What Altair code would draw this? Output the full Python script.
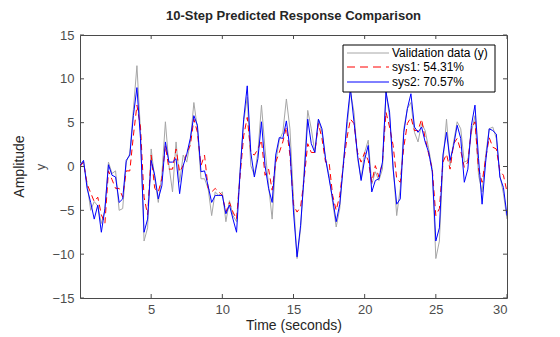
import altair as alt
import pandas as pd

# time samples (seconds)
time_s = [0.0, 0.25, 0.5, 0.75, 1.0, 1.25, 1.5, 1.75, 2.0, 2.25, 2.5, 2.75, 3.0, 3.25, 3.5, 3.75,
          4.0, 4.25, 4.5, 4.75, 5.0, 5.25, 5.5, 5.75, 6.0, 6.25, 6.5, 6.75, 7.0, 7.25, 7.5, 7.75,
          8.0, 8.25, 8.5, 8.75, 9.0, 9.25, 9.5, 9.75, 10.0, 10.25, 10.5, 10.75, 11.0, 11.25, 11.5, 11.75,
          12.0, 12.25, 12.5, 12.75, 13.0, 13.25, 13.5, 13.75, 14.0, 14.25, 14.5, 14.75, 15.0, 15.25, 15.5, 15.75,
          16.0, 16.25, 16.5, 16.75, 17.0, 17.25, 17.5, 17.75, 18.0, 18.25, 18.5, 18.75, 19.0, 19.25, 19.5, 19.75,
          20.0, 20.25, 20.5, 20.75, 21.0, 21.25, 21.5, 21.75, 22.0, 22.25, 22.5, 22.75, 23.0, 23.25, 23.5, 23.75,
          24.0, 24.25, 24.5, 24.75, 25.0, 25.25, 25.5, 25.75, 26.0, 26.25, 26.5, 26.75, 27.0, 27.25, 27.5, 27.75,
          28.0, 28.25, 28.5, 28.75, 29.0, 29.25, 29.5, 29.75, 30.0]

validation_y = [0.3, 0.5, -2.0, -5.0, -4.0, -4.5, -6.5, -5.0, 0.5, -0.8, -0.5, -5.0, -4.8, 0.5, 1.5, 6.5,
                11.5, 4.0, -8.5, -7.0, 2.0, -1.4, -4.1, -1.0, 5.1, 0.1, -2.9, 2.8, -1.8, 1.3, 0.5, 2.8,
                7.3, 4.3, -1.4, -1.4, -2.5, -5.6, -2.9, -3.3, -2.9, -6.3, -3.9, -5.6, -6.3, -0.3, 5.1, 7.9,
                0.1, -1.0, 1.6, 7.0, 2.0, -2.2, -6.0, 0.5, 3.0, 3.9, 7.7, 4.3, -3.7, -10.5, -7.1, -0.3,
                6.4, 4.3, 1.6, 5.4, 3.9, 0.9, -1.0, -4.1, -6.9, -4.8, 0.5, 4.3, 8.5, 6.2, 0.9, -1.4,
                1.6, 3.0, -2.0, -0.6, -1.6, -0.3, 8.5, 5.6, 0.1, -5.6, -2.5, 4.3, 6.6, 7.3, 3.9, 2.8,
                4.9, 4.1, 2.0, -0.3, -10.5, -8.5, 0.5, 5.4, 0.1, 2.8, 5.1, 4.3, 0.5, 0.7, 3.9, 5.8,
                -1.0, -2.9, 1.3, 4.3, 4.5, 3.2, -1.0, -3.1, -6.0]

sys1_y = [0.0, 0.5, -2.0, -3.0, -4.0, -3.5, -5.5, -6.5, -0.5, -1.5, -2.5, -2.5, -3.5, -0.5, -0.5, 3.5,
          7.0, 4.5, -3.5, -5.5, 1.3, -2.5, -2.9, -1.4, 2.4, -0.3, -0.3, 2.0, -0.6, 0.1, 1.6, 2.4,
          5.4, 3.9, 0.1, 1.3, -2.5, -2.9, -2.5, -2.9, -3.3, -5.2, -4.1, -5.2, -6.0, -1.0, 3.5, 5.6,
          1.6, 1.3, 2.0, 3.0, -1.0, -0.3, -2.7, 0.5, 1.6, 2.8, 4.5, 1.3, -4.4, -5.2, -4.6, -1.4,
          2.6, 1.6, 1.6, 4.9, 3.2, 0.5, 0.5, -3.3, -5.0, -3.3, 0.1, 3.2, 5.4, 4.9, 1.6, 0.5,
          1.6, 0.7, -1.8, 0.1, -1.2, 0.5, 6.2, 4.5, 2.4, -1.4, -1.8, 2.2, 4.9, 5.6, 4.1, 4.1,
          5.4, 3.2, 1.4, -0.3, -5.6, -4.8, 0.5, 1.4, -0.3, 2.6, 3.2, 1.8, -0.1, 0.5, 4.3, 5.1,
          -0.3, -1.8, 0.9, 3.3, 2.2, 2.0, -0.5, -1.0, -2.9]

sys2_y = [0.1, 0.7, -2.5, -4.1, -6.0, -4.4, -7.5, -4.8, 0.2, -1.0, -1.2, -4.1, -3.7, 0.7, 1.3, 5.8,
          9.0, 3.2, -7.5, -6.0, 0.7, -1.0, -3.7, -2.2, 2.8, 0.5, 0.5, 0.9, -3.1, 0.1, 1.4, 3.2,
          5.8, 4.7, -0.6, -0.5, -2.2, -4.1, -3.3, -3.3, -3.3, -5.4, -4.4, -6.0, -7.5, -0.6, 5.4, 9.2,
          1.6, -1.2, 0.9, 5.1, 0.1, -2.5, -4.1, 1.3, 3.3, 3.2, 5.2, 2.0, -5.2, -10.3, -6.7, -1.0,
          5.4, 2.6, 1.6, 5.4, 4.3, 0.9, -1.4, -3.7, -6.3, -4.3, 0.1, 5.1, 8.9, 5.1, 1.3, -1.6,
          0.8, 2.4, -2.9, -1.6, -1.4, 0.5, 8.5, 6.2, -0.3, -4.3, -3.7, 3.9, 6.6, 8.3, 4.5, 3.9,
          4.5, 2.8, 1.6, -0.6, -8.5, -7.0, 1.3, 3.9, 0.7, 2.4, 4.7, 3.2, -1.8, -0.3, 4.7, 7.0,
          0.9, -4.3, 0.5, 4.3, 4.1, 3.7, -1.2, -2.4, -5.6]

series_names = ["Validation data (y)", "sys1: 54.31%", "sys2: 70.57%"]
series_colors = ["#a6a6a6", "#ff0000", "#0000ff"]
x_ticks = [5, 10, 15, 20, 25, 30]
y_ticks = [-15, -10, -5, 0, 5, 10, 15]

W, H = 427, 263
AX = "#4a4a4a"
FONT = "Liberation Sans"

xs = alt.Scale(domain=[0, 30], nice=False, zero=False)
ys = alt.Scale(domain=[-15, 15], nice=False)
common_axis = dict(domain=False, ticks=False, grid=False, format="d",
                   labelFont=FONT, labelFontSize=13, labelColor="#4d4d4d",
                   titleFont=FONT, titleFontWeight="normal")
x_axis = alt.Axis(values=x_ticks, title="Time (seconds)", labelPadding=5, titlePadding=2,
                  titleFontSize=14, titleColor="#262626", **common_axis)
y_axis = alt.Axis(values=y_ticks, title="y", labelPadding=6, titlePadding=4,
                  titleFontSize=13, titleColor="#4d4d4d", **common_axis)

def line_layer(vals, color, dash=None):
    df = pd.DataFrame({"t": time_s, "v": vals})
    kw = dict(color=color, strokeWidth=1, clip=True)
    if dash:
        kw["strokeDash"] = dash
    return alt.Chart(df).mark_line(**kw).encode(
        x=alt.X("t:Q", scale=xs, axis=x_axis),
        y=alt.Y("v:Q", scale=ys, axis=y_axis),
    )

base_lines = [
    line_layer(validation_y, series_colors[0]),
    line_layer(sys1_y, series_colors[1], [6, 4]),
    line_layer(sys2_y, series_colors[2]),
]

xt = pd.DataFrame({"t": x_ticks})
yt = pd.DataFrame({"v": y_ticks})
tick_layers = [
    alt.Chart(xt).mark_rule(color=AX).encode(x=alt.X("t:Q", scale=xs, axis=x_axis), y=alt.value(H), y2=alt.value(H - 4)),
    alt.Chart(xt).mark_rule(color=AX).encode(x=alt.X("t:Q", scale=xs, axis=x_axis), y=alt.value(0), y2=alt.value(4)),
    alt.Chart(yt).mark_rule(color=AX).encode(y=alt.Y("v:Q", scale=ys, axis=y_axis), x=alt.value(0), x2=alt.value(4)),
    alt.Chart(yt).mark_rule(color=AX).encode(y=alt.Y("v:Q", scale=ys, axis=y_axis), x=alt.value(W), x2=alt.value(W - 4)),
]

amp = alt.Chart(pd.DataFrame({"lab": ["Amplitude"]})).mark_text(
    angle=270, fontSize=14, font=FONT, color="#262626", baseline="middle", align="center"
).encode(text="lab:N", x=alt.value(-60), y=alt.value(H / 2))

# manual legend
one = pd.DataFrame({"k": [0]})
leg_layers = [
    alt.Chart(one).mark_rect(fill="white", stroke="black", strokeWidth=1).encode(
        x=alt.value(263), x2=alt.value(415), y=alt.value(10), y2=alt.value(57))
]
row_y = [18, 32, 47]
# solid sample for rows 0 and 2, dashed (drawn as short solid pieces) for row 1
pieces = {0: [(267, 309)], 1: [(267, 275), (280, 288), (293, 301), (306, 309)], 2: [(267, 309)]}
for i, (name, col, ry) in enumerate(zip(series_names, series_colors, row_y)):
    for x0, x1 in pieces[i]:
        leg_layers.append(alt.Chart(one).mark_rule(strokeWidth=1, color=col).encode(
            x=alt.value(x0), x2=alt.value(x1), y=alt.value(ry)))
    leg_layers.append(alt.Chart(pd.DataFrame({"lab": [name]})).mark_text(
        align="left", baseline="middle", fontSize=12, font=FONT, color="#000000"
    ).encode(text="lab:N", x=alt.value(312), y=alt.value(ry)))

chart = alt.layer(*base_lines, *tick_layers, amp, *leg_layers).properties(
    width=W, height=H, background="white",
    title=alt.Title("10-Step Predicted Response Comparison", fontSize=13, fontWeight="bold",
                    font=FONT, color="#262626", anchor="middle", offset=6),
    autosize=alt.AutoSizeParams(type="none"),
    padding={"left": 80, "top": 35, "right": 53, "bottom": 39},
).configure_view(stroke=AX, strokeWidth=1)

chart.save("out.html", embed_options={"renderer": "svg", "actions": False})
